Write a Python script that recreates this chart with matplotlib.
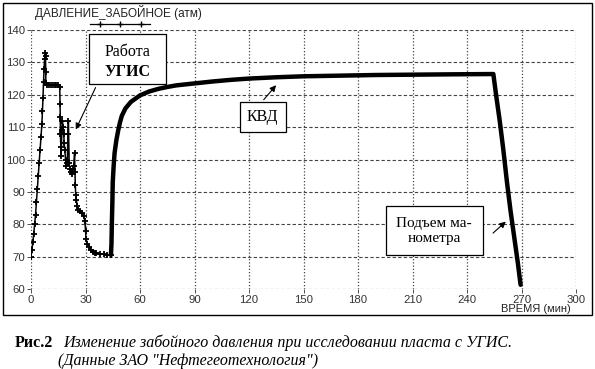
import matplotlib
matplotlib.use("Agg")
import matplotlib.pyplot as plt
from matplotlib.lines import Line2D
from matplotlib.patches import Rectangle

# ===============================
# DATA
# ===============================
time_min = [
    0, 0.5, 1, 1.5, 2, 2.5, 3, 3.5, 4, 4.5, 5, 5.5, 6, 6.3, 6.6, 6.9, 7.2, 7.5, 7.8,
    8.0, 8.1, 8.2, 9, 10, 11, 12, 13, 14, 15, 15.8,
    16.0, 16.1, 16.2, 16.4, 16.6, 17.0, 17.3, 17.6, 18.0, 18.3, 18.6, 19.0, 19.5,
    20.0, 20.3, 20.6, 21.0, 21.5, 22.0, 22.5, 23.0, 23.5, 24.0, 24.2, 24.4, 24.6,
    25.0, 25.5, 26, 27, 28, 29, 29.7, 30.0, 30.3, 31, 32, 33, 34, 35, 36, 38, 40,
    42, 44.0, 44.3, 44.5, 44.8, 45.0, 45.5, 46, 47, 48, 49, 50, 52, 55, 60, 65,
    70, 75, 80, 90, 100, 110, 120, 135, 150, 170, 190, 210, 230, 254.5,
    256, 258, 260, 262, 264, 266, 268, 269.5,
]
pressure_atm = [
    70, 72, 74.5, 77, 80, 83, 87, 91, 95, 99, 103, 107, 111, 115, 119, 124, 128, 131, 133,
    132, 127, 123.5, 123, 123, 123, 123, 123, 123, 123, 122.5,
    117, 113, 108, 104, 101, 109, 112, 110, 108, 105, 103, 100, 98,
    99, 108, 112, 99, 97, 96, 95.5, 97, 98, 102, 96, 92, 89,
    87.5, 85.5, 84.5, 84, 83.5, 82.5, 81, 78, 75.5, 74, 73, 72, 71.5, 71.2, 71, 70.8, 70.8,
    70.6, 70.5, 74, 80, 87, 93, 98, 102, 106, 109, 111.5, 113.5, 115.8, 117.8, 119.8, 121,
    121.8, 122.4, 122.9, 123.5, 124.1, 124.6, 125, 125.4, 125.7, 125.9, 126.1, 126.2, 126.3, 126.4,
    120, 112, 103, 93, 84, 76, 68, 61.3,
]
KVD_START = 44.0

x_ticks = [0, 30, 60, 90, 120, 150, 180, 210, 240, 270, 300]
y_ticks = [60, 70, 80, 90, 100, 110, 120, 130, 140]

# ===============================
# FIGURE
# ===============================
W, H = 595, 369
fig = plt.figure(figsize=(W / 100, H / 100), dpi=100)
ax = fig.add_axes([31 / W, 1 - 289 / H, (576 - 31) / W, (289 - 30) / H])

# early part: thin line with "+" markers
early_t = [t for t in time_min if t <= KVD_START]
early_p = [p for t, p in zip(time_min, pressure_atm) if t <= KVD_START]
ax.plot(early_t, early_p, color='black', linewidth=1.1,
        marker='+', markersize=4.5, markeredgewidth=1.3, zorder=3)
# the build-up and the gauge lift look heavy (dense samples)
kvd_t = [t for t in time_min if t >= KVD_START]
kvd_p = [p for t, p in zip(time_min, pressure_atm) if t >= KVD_START]
ax.plot(kvd_t, kvd_p, color='black', linewidth=3.2, solid_capstyle='round',
        solid_joinstyle='round', zorder=4)

ax.set_xlim(0, 300)
ax.set_ylim(60, 140)
ax.set_xticks(x_ticks)
ax.set_yticks(y_ticks)
for s in ax.spines.values():
    s.set_visible(False)

ax.tick_params(axis='both', labelsize=8.2, colors='#333333', length=3, width=0.6,
               pad=1)
for lab in ax.get_xticklabels() + ax.get_yticklabels():
    lab.set_family('Liberation Sans')

# grid: horizontal dashed, vertical dotted
for y in y_ticks:
    ax.axhline(y, color='#444444', linestyle=(0, (3, 2)), linewidth=0.8, zorder=1)
for x in x_ticks:
    ax.axvline(x, color='#444444', linestyle=(0, (1, 1.6)), linewidth=0.9, zorder=1)

# ===============================
# ANNOTATIONS
# ===============================
box = dict(boxstyle='square,pad=0.45', facecolor='white', edgecolor='black', linewidth=0.9)
arrow = dict(arrowstyle='-|>', color='black', linewidth=0.8, mutation_scale=9)

ax.annotate('', xy=(24.0, 108.5), xytext=(36.2, 123), arrowprops=arrow, zorder=5)
ax.text(53, 133.2, 'Работа', ha='center', va='center', fontsize=11.5,
        family='Liberation Serif', zorder=7)
ax.text(53, 127.0, 'УГИС', ha='center', va='center', fontsize=11.5,
        fontweight='bold', family='Liberation Serif', zorder=7)
ax.add_patch(Rectangle((31.7, 123.3), 42.7, 15.4, facecolor='white', edgecolor='black',
                       linewidth=0.9, zorder=6))

ax.annotate('', xy=(135.9, 123.6), xytext=(127.1, 117.8), arrowprops=arrow, zorder=5)
ax.text(127.5, 113.1, 'КВД', ha='center', va='center', fontsize=11.5,
        family='Liberation Serif', bbox=box, zorder=7)

ax.annotate('', xy=(262.5, 81.4), xytext=(253.2, 76.7), arrowprops=arrow, zorder=5)
ax.text(222.0, 78.0, 'Подъем ма-\nнометра', ha='center', va='center', fontsize=11,
        family='Liberation Serif', linespacing=1.2,
        bbox=dict(boxstyle='square,pad=0.7', facecolor='white', edgecolor='black',
                  linewidth=0.9), zorder=7)

# ===============================
# HEADER, AXIS NAME, FRAME, CAPTION
# ===============================
fig.text(35 / W, 1 - 13 / H, 'ДАВЛЕНИЕ_ЗАБОЙНОЕ (атм)', fontsize=8.5, color='#222222',
         family='Liberation Sans', va='center', ha='left')
fig.add_artist(Line2D([90 / W, 150 / W], [1 - 24 / H] * 2, color='black', linewidth=0.9))
fig.add_artist(Line2D([100 / W, 120 / W, 141 / W], [1 - 24 / H] * 3, linestyle='none',
                      marker='+', markersize=4, markeredgewidth=1, color='black'))
fig.text(571 / W, 1 - 309.5 / H, 'ВРЕМЯ (мин)', fontsize=8, color='#222222',
         family='Liberation Sans', va='center', ha='right')
fig.add_artist(Rectangle((3 / W, 1 - 315 / H), 589 / W, 312 / H, transform=fig.transFigure,
                         fill=False, edgecolor='black', linewidth=1.0))

fig.text(15 / W, 1 - 343 / H, 'Рис.2', fontsize=11.5, fontweight='bold',
         family='Liberation Serif', va='center', ha='left')
fig.text(63 / W, 1 - 343 / H,
         'Изменение забойного давления при исследовании пласта с УГИС.',
         fontsize=11.5, style='italic', family='Liberation Serif', va='center', ha='left')
fig.text(58 / W, 1 - 361 / H, '(Данные ЗАО "Нефтегеотехнология")',
         fontsize=11.5, style='italic', family='Liberation Serif', va='center', ha='left')

fig.savefig('out.png', dpi=100)
